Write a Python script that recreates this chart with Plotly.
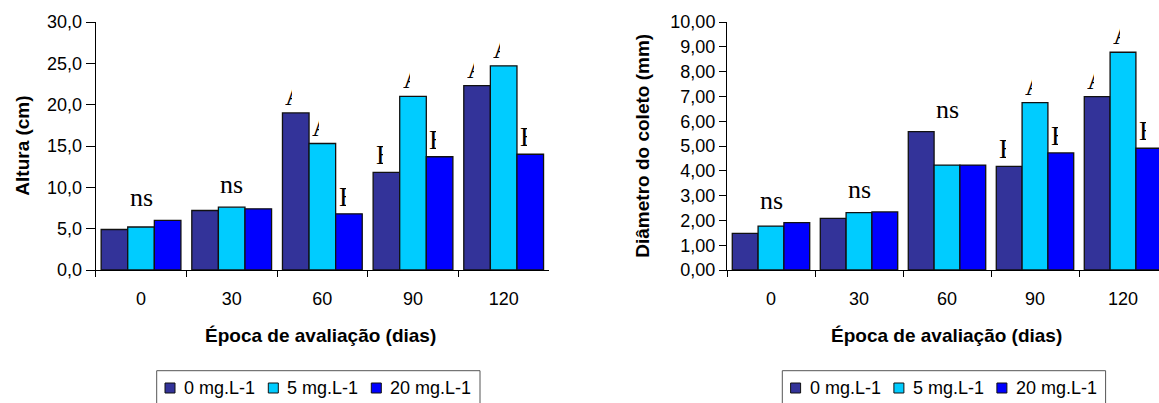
import plotly.graph_objects as go

# ---------------- data ----------------
epocas = ['0', '30', '60', '90', '120']
doses = ['0 mg.L-1', '5 mg.L-1', '20 mg.L-1']
cores = ['#333399', '#00CCFF', '#0000FF']

altura_0 = [4.9, 7.2, 19.0, 11.8, 22.3]
altura_5 = [5.2, 7.6, 15.3, 21.0, 24.7]
altura_20 = [6.0, 7.4, 6.8, 13.7, 14.0]

diam_0 = [1.48, 2.08, 5.58, 4.18, 6.99]
diam_5 = [1.77, 2.31, 4.23, 6.75, 8.78]
diam_20 = [1.91, 2.34, 4.23, 4.72, 4.91]

ns_altura = ['ns', 'ns', '', '', '']
letras_altura_0 = ['', '', 'A', 'B', 'A']
letras_altura_5 = ['', '', 'A', 'A', 'A']
letras_altura_20 = ['', '', 'B', 'B', 'B']

ns_diam = ['ns', 'ns', 'ns', '', '']
letras_diam_0 = ['', '', '', 'B', 'A']
letras_diam_5 = ['', '', '', 'A', 'A']
letras_diam_20 = ['', '', '', 'B', 'B']

titulo_x = 'Época de avaliação (dias)'
titulo_y1 = 'Altura (cm)'
titulo_y2 = 'Diâmetro do coleto (mm)'

# ---------------- figure ----------------
W, H = 1159, 403
BARGAP = 0.12
SANS = 'Arial, Liberation Sans, sans-serif'
SERIF = 'Times New Roman, Liberation Serif, serif'

fig = go.Figure()

paineis = [
    ([altura_0, altura_5, altura_20], 'x', 'y'),
    ([diam_0, diam_5, diam_20], 'x2', 'y2'),
]
for series, xa, ya in paineis:
    for vals, nome, cor in zip(series, doses, cores):
        fig.add_trace(go.Bar(
            x=epocas, y=vals, name=nome, xaxis=xa, yaxis=ya, showlegend=False,
            marker=dict(color=cor, line=dict(color='#111111', width=1.3)),
        ))

annotations = []
shapes = []
grupos = [
    ([altura_0, altura_5, altura_20], ns_altura,
     [letras_altura_0, letras_altura_5, letras_altura_20], 'x', 'y'),
    ([diam_0, diam_5, diam_20], ns_diam,
     [letras_diam_0, letras_diam_5, letras_diam_20], 'x2', 'y2'),
]
bw = (1 - BARGAP) / 3
for series, ns, letras, xa, ya in grupos:
    for i, cat in enumerate(epocas):
        if ns[i]:
            top = max(s[i] for s in series)
            annotations.append(dict(
                x=i, y=top, xref=xa, yref=ya, text=ns[i], showarrow=False,
                xanchor='center', yanchor='bottom', yshift=6,
                font=dict(family=SERIF, size=26, color='black')))
        for j in range(3):
            t = letras[j][i]
            if t:
                left = i - (1 - BARGAP) / 2 + j * bw
                annotations.append(dict(
                    x=left, y=series[j][i], xref=xa, yref=ya, text=t,
                    showarrow=False, xanchor='left', yanchor='bottom',
                    xshift=1, yshift=0, width=7, align='left',
                    font=dict(family=SERIF, size=27, color='black')))

# axis titles
tfont = dict(family=SANS, size=19, color='black', weight='bold')
annotations += [
    dict(x=21.7 / W, y=1 - 146 / H, xref='paper', yref='paper', text=titulo_y1,
         textangle=-90, showarrow=False, xanchor='center', yanchor='middle', font=tfont),
    dict(x=641.7 / W, y=1 - 146 / H, xref='paper', yref='paper', text=titulo_y2,
         textangle=-90, showarrow=False, xanchor='center', yanchor='middle', font=tfont),
    dict(x=320 / W, y=1 - 335 / H, xref='paper', yref='paper', text=titulo_x,
         showarrow=False, xanchor='center', yanchor='middle', font=tfont),
    dict(x=946 / W, y=1 - 335 / H, xref='paper', yref='paper', text=titulo_x,
         showarrow=False, xanchor='center', yanchor='middle', font=tfont),
]

# legends (boxed, one under each panel)
item_x = [8.3, 111.6, 214.6]    # swatch offsets inside the box (px)
for box_left, box_right in [(156.7, 480.0), (782.3, 1105.6)]:
    shapes.append(dict(type='rect', xref='paper', yref='paper',
                       x0=box_left / W, x1=box_right / W,
                       y0=1 - 415 / H, y1=1 - 370.7 / H,
                       line=dict(color='#555555', width=1), fillcolor='white',
                       layer='below'))
    for off, nome, cor in zip(item_x, doses, cores):
        sx = box_left + off
        shapes.append(dict(type='rect', xref='paper', yref='paper',
                           x0=sx / W, x1=(sx + 10) / W,
                           y0=1 - 393 / H, y1=1 - 383 / H,
                           line=dict(color='#111111', width=1), fillcolor=cor))
        annotations.append(dict(x=(sx + 17) / W, y=1 - 388 / H, xref='paper', yref='paper',
                                text=nome, showarrow=False, xanchor='left', yanchor='middle',
                                font=dict(family=SANS, size=18, color='black')))

ydom = [1 - 270 / H, 1 - 22 / H]
xcommon = dict(type='category', showline=True, linecolor='black', linewidth=1,
               ticks='outside', ticklen=6, tickcolor='black', tickson='boundaries',
               showgrid=False, zeroline=False, ticklabelstandoff=12, automargin=False,
               tickfont=dict(family=SANS, size=18, color='black'))
ycommon = dict(showline=True, linecolor='black', linewidth=1, ticks='outside',
               tickcolor='black', showgrid=False, zeroline=False, automargin=False,
               tickfont=dict(family=SANS, size=18, color='black'), domain=ydom)

cat_w2 = 88.0
fig.update_layout(
    width=W, height=H, autosize=False,
    margin=dict(l=0, r=0, t=0, b=0, pad=0, autoexpand=False),
    paper_bgcolor='white', plot_bgcolor='white',
    separators=',.', showlegend=False,
    barmode='group', bargap=BARGAP, bargroupgap=0,
    xaxis=dict(domain=[95.7 / W, 549 / W], anchor='y', range=[-0.5, 4.5], **xcommon),
    yaxis=dict(anchor='x', range=[0, 30], dtick=5, tickformat='.1f', ticklen=9, **ycommon),
    xaxis2=dict(domain=[727 / W, 1.0], anchor='y2',
                range=[-0.5, 4.5 - (727 + 5 * cat_w2 - W) / cat_w2], **xcommon),
    yaxis2=dict(anchor='x2', range=[0, 10], dtick=1, tickformat='.2f', ticklen=7, **ycommon),
    annotations=annotations,
    shapes=shapes,
)

fig.write_html('out.html', config={'displayModeBar': False, 'staticPlot': True},
               post_script="document.body.style.margin='0';document.body.style.overflow='hidden';")
